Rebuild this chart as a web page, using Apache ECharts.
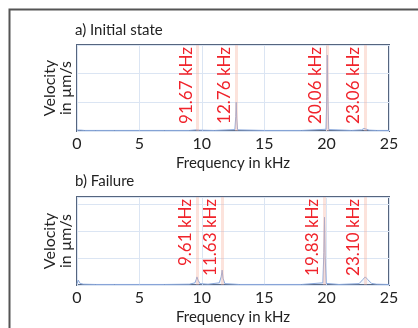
<!DOCTYPE html>
<html>
<head>
<meta charset="utf-8">
<script src="https://cdn.jsdelivr.net/npm/echarts@6/dist/echarts.min.js"></script>
<style>
  html, body { margin: 0; padding: 0; background: #fff; }
  #chart { width: 418px; height: 328px; }
</style>
</head>
<body>
<div id="chart"></div>
<script>
// spectrum a) initial state: frequency (kHz) / velocity
const freqA = [0, 0.15, 0.3, 0.6, 1.5, 3, 5, 7, 9, 9.55, 9.67, 9.8, 11, 12.65, 12.72, 12.76, 12.8, 12.87, 15, 18, 19.95, 20.02, 20.06, 20.1, 20.17, 22, 22.8, 23.0, 23.06, 23.15, 23.4, 24, 25];
const velA  = [0.03, 0.06, 0.03, 0.02, 0.02, 0.02, 0.02, 0.02, 0.02, 0.04, 0.08, 0.03, 0.02, 0.05, 0.5, 1.0, 0.45, 0.04, 0.02, 0.02, 0.06, 1.3, 2.65, 1.2, 0.05, 0.02, 0.04, 0.09, 0.11, 0.07, 0.03, 0.02, 0.02];
// spectrum b) failure
const freqB = [0, 0.1, 0.25, 0.5, 1.5, 3, 5, 7, 9, 9.45, 9.55, 9.61, 9.7, 9.85, 10.5, 11.4, 11.55, 11.63, 11.7, 11.85, 13, 15, 18, 19.7, 19.78, 19.83, 19.88, 19.97, 21, 22.6, 22.9, 23.1, 23.3, 23.6, 24, 25];
const velB  = [0.05, 0.18, 0.06, 0.03, 0.02, 0.02, 0.02, 0.02, 0.03, 0.08, 0.2, 0.3, 0.18, 0.05, 0.03, 0.08, 0.3, 0.55, 0.25, 0.05, 0.02, 0.02, 0.02, 0.08, 1.2, 2.5, 1.1, 0.06, 0.02, 0.05, 0.2, 0.3, 0.2, 0.06, 0.03, 0.02];

const peaksA = [9.67, 12.76, 20.06, 23.06];
const peakLabelsA = ['91.67 kHz', '12.76 kHz', '20.06 kHz', '23.06 kHz'];
const peaksB = [9.61, 11.63, 19.83, 23.10];
const peakLabelsB = ['9.61 kHz', '11.63 kHz', '19.83 kHz', '23.10 kHz'];

const xTicks = [0, 5, 10, 15, 20, 25];
const titles = ['a) Initial state', 'b) Failure'];

const FONT = 'Lato';
const chart = echarts.init(document.getElementById('chart'));

function xAxisFor(i) {
  return {
    type: 'value', gridIndex: i, min: xTicks[0], max: xTicks[xTicks.length - 1], interval: 5,
    name: 'Frequency in kHz', nameLocation: 'middle', nameGap: 25,
    nameTextStyle: { fontFamily: FONT, fontSize: 15, color: '#222' },
    axisLine: { show: false }, axisTick: { show: false },
    axisLabel: { fontFamily: FONT, fontSize: 16, color: '#222', margin: 5 },
    splitLine: { show: true, lineStyle: { color: '#dbe5f3', width: 1 } }
  };
}
function yAxisFor(i, max) {
  return {
    type: 'value', gridIndex: i, min: 0, max: max, interval: 1,
    name: 'Velocity\nin µm/s', nameLocation: 'middle', nameGap: 3, nameRotate: 90,
    nameTextStyle: { fontFamily: FONT, fontSize: 16, color: '#222', lineHeight: 16 },
    axisLine: { show: false }, axisTick: { show: false }, axisLabel: { show: false },
    splitLine: { show: true, lineStyle: { color: '#dbe5f3', width: 1 } }
  };
}
function seriesFor(i, fr, vel, peaks, labels) {
  return {
    type: 'line', xAxisIndex: i, yAxisIndex: i,
    data: fr.map((f, k) => [f, vel[k]]),
    showSymbol: false, silent: true,
    lineStyle: { color: '#8aa8dc', width: 1 },
    areaStyle: { color: 'rgba(138,168,220,0.15)' },
    markLine: {
      silent: true, symbol: 'none', animation: false,
      lineStyle: { color: 'rgba(246,175,155,0.35)', width: 3, type: 'solid' },
      label: {
        show: true, position: 'insideEndTop', distance: [2, 3],
        fontFamily: FONT, fontSize: 17, color: '#f0232b',
        formatter: p => labels[p.dataIndex]
      },
      data: peaks.map(p => ({ xAxis: p }))
    }
  };
}

const option = {
  animation: false,
  backgroundColor: '#fff',
  graphic: [
    { type: 'rect', left: 7, top: 7, shape: { width: 520, height: 420 }, style: { fill: 'none', stroke: '#555', lineWidth: 2 } },
    { type: 'text', left: 75, top: 23, style: { text: titles[0], fontFamily: FONT, fontSize: 15, fill: '#222' } },
    { type: 'text', left: 75, top: 174, style: { text: titles[1], fontFamily: FONT, fontSize: 15, fill: '#222' } }
  ],
  grid: [
    { left: 77, right: 29, top: 45, height: 86, show: true, backgroundColor: '#fff', borderColor: '#55657f', borderWidth: 2 },
    { left: 77, right: 29, top: 197, height: 88, show: true, backgroundColor: '#fff', borderColor: '#55657f', borderWidth: 2 }
  ],
  xAxis: [xAxisFor(0), xAxisFor(1)],
  yAxis: [yAxisFor(0, 3), yAxisFor(1, 3.25)],
  series: [
    seriesFor(0, freqA, velA, peaksA, peakLabelsA),
    seriesFor(1, freqB, velB, peaksB, peakLabelsB)
  ]
};
chart.setOption(option);
</script>
</body>
</html>
